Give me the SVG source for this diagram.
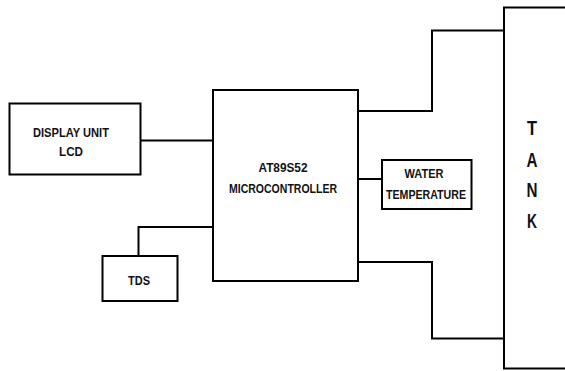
<svg xmlns="http://www.w3.org/2000/svg" width="565" height="371" viewBox="0 0 565 371">
<style>
.box{fill:#fff;stroke:#000;stroke-width:2}
.wire{fill:none;stroke:#000;stroke-width:2}
text{font-family:"Liberation Sans",Arial,sans-serif;font-weight:bold;fill:#111;text-anchor:middle}
.t{font-size:13px}
.big{font-size:20px}
</style>
<rect width="565" height="371" fill="#fff"/>
<g id="connectors">
<path class="wire" d="M141 140.5H213"/>
<path class="wire" d="M213 227H138.5V256"/>
<path class="wire" d="M358 111H432V30.5H504"/>
<path class="wire" d="M358 179H382"/>
<path class="wire" d="M358 262H432V338.5H504"/>
</g>
<g id="display">
<rect class="box" x="9.5" y="103.5" width="131" height="71"/>
<text class="t" x="71" y="136.5" textLength="76" lengthAdjust="spacingAndGlyphs">DISPLAY UNIT</text>
<text class="t" x="71" y="155.5" textLength="24" lengthAdjust="spacingAndGlyphs">LCD</text>
</g>
<g id="micro">
<rect class="box" x="213" y="90" width="145" height="191"/>
<text class="t" x="283" y="172" textLength="49" lengthAdjust="spacingAndGlyphs">AT89S52</text>
<text class="t" x="283" y="192.5" textLength="108" lengthAdjust="spacingAndGlyphs">MICROCONTROLLER</text>
</g>
<g id="tds">
<rect class="box" x="102.5" y="256" width="75" height="45"/>
<text class="t" x="139" y="285" textLength="22" lengthAdjust="spacingAndGlyphs">TDS</text>
</g>
<g id="water">
<rect class="box" x="382" y="160" width="89.5" height="49"/>
<text class="t" x="424" y="177.5" textLength="39" lengthAdjust="spacingAndGlyphs">WATER</text>
<text class="t" x="426" y="198.5" textLength="80" lengthAdjust="spacingAndGlyphs">TEMPERATURE</text>
</g>
<g id="tank">
<rect class="box" x="504" y="7.5" width="70" height="361"/>
<text class="big" x="532" y="135" textLength="10" lengthAdjust="spacingAndGlyphs">T</text>
<text class="big" x="532" y="166.5" textLength="11" lengthAdjust="spacingAndGlyphs">A</text>
<text class="big" x="532" y="197" textLength="11" lengthAdjust="spacingAndGlyphs">N</text>
<text class="big" x="532" y="227.5" textLength="10" lengthAdjust="spacingAndGlyphs">K</text>
</g>
</svg>
